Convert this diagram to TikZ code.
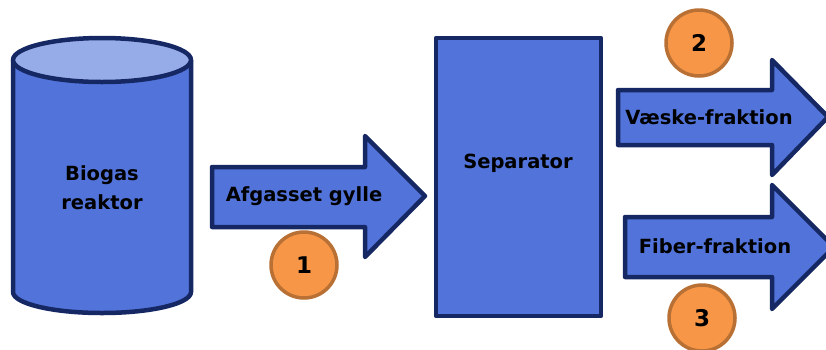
\documentclass[tikz,border=0pt]{standalone}
\usepackage{fontspec}
\setmainfont{DejaVu Sans}
\definecolor{bfill}{RGB}{82,116,218}
\definecolor{bline}{RGB}{22,40,100}
\definecolor{btop}{RGB}{150,172,232}
\definecolor{ofill}{RGB}{247,150,70}
\definecolor{oline}{RGB}{184,112,52}
\tikzset{
  blueshape/.style={fill=bfill,draw=bline,line width=4.5pt,line join=round},
  lbl/.style={font=\fontsize{19.5}{29}\selectfont\bfseries,align=center,inner sep=0pt},
  num/.style={circle,fill=ofill,draw=oline,line width=3.5pt,minimum size=66pt,inner sep=0pt,font=\fontsize{23}{27}\selectfont\bfseries}
}
\begin{document}
\begin{tikzpicture}[x=1pt,y=-1pt]
\useasboundingbox (0,0) rectangle (826,349);
\clip (0,0) rectangle (826,349);
% cylinder
\draw[blueshape] (13,60) -- (13,292) arc[start angle=180,end angle=0,x radius=89,y radius=21] -- (191,60);
\draw[blueshape,fill=btop] (102,60) ellipse[x radius=89,y radius=22];
\node[lbl] (reaktor) at (102,188) {Biogas\\reaktor};
% separator
\draw[blueshape] (436,38) rectangle (601,316);
\node[lbl] (sep) at (518,163) {Separator};
% arrow 1
\draw[blueshape] (212,167) -- (365,167) -- (365,136) -- (425,196) -- (365,257) -- (365,227) -- (212,227) -- cycle;
\node[lbl] (a1) at (304,196) {Afgasset gylle};
% arrow 2
\draw[blueshape] (618,90) -- (772,90) -- (772,60) -- (828,117) -- (772,175) -- (772,145) -- (618,145) -- cycle;
\node[lbl] (a2) at (709,117) {Væske-fraktion};
% arrow 3
\draw[blueshape] (625,217) -- (772,217) -- (772,185) -- (834,247) -- (772,309) -- (772,277) -- (625,277) -- cycle;
\node[lbl] (a3) at (715,246) {Fiber-fraktion};
% numbers
\node[num] (n1) at (304,265) {1};
\node[num] (n2) at (699,43) {2};
\node[num] (n3) at (702,318) {3};
\end{tikzpicture}
\end{document}
